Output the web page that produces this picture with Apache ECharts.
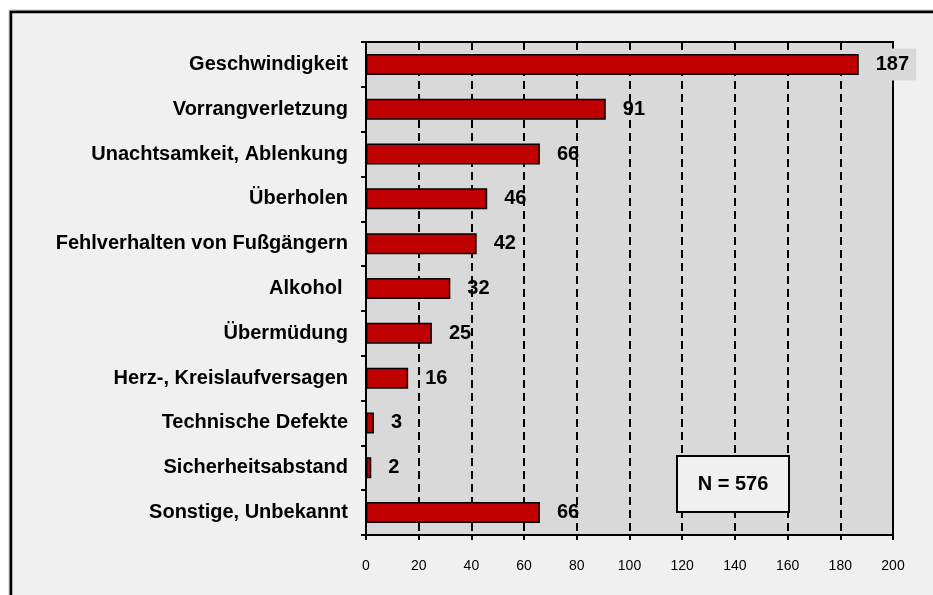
<!DOCTYPE html>
<html>
<head>
<meta charset="utf-8">
<script src="https://cdn.jsdelivr.net/npm/echarts@6/dist/echarts.min.js"></script>
<style>
  html, body { margin: 0; padding: 0; background: #fff; }
  #chart { width: 933px; height: 595px; }
</style>
</head>
<body>
<div id="chart"></div>
<script>
// Unfallursachen (Anzahl)
const categories = [
  "Geschwindigkeit",
  "Vorrangverletzung",
  "Unachtsamkeit, Ablenkung",
  "Überholen",
  "Fehlverhalten von Fußgängern",
  "Alkohol ",
  "Übermüdung",
  "Herz-, Kreislaufversagen",
  "Technische Defekte",
  "Sicherheitsabstand",
  "Sonstige, Unbekannt"
];
const values = [187, 91, 66, 46, 42, 32, 25, 16, 3, 2, 66];
const axisMax = 200;
const axisStep = 20;
const totalLabel = "N = 576";

const font = "'Liberation Sans', Arial, sans-serif";
const chart = echarts.init(document.getElementById("chart"));

// the longest bar's label sticks out of the plot, it keeps the plot grey behind it
const maxVal = Math.max(...values);
const barData = values.map(v => v === maxVal
  ? { value: v, label: { backgroundColor: "#d9d9d9" } }
  : v);

chart.setOption({
  animation: false,
  backgroundColor: "#ffffff",
  grid: {
    left: 366,
    right: 40,
    top: 42,
    bottom: 60,
    show: true,
    backgroundColor: "#d9d9d9",
    borderColor: "#000",
    borderWidth: 2
  },
  xAxis: {
    type: "value",
    min: 0,
    max: axisMax,
    interval: axisStep,
    axisLine: { show: true, lineStyle: { color: "#000", width: 2 } },
    axisTick: { show: true, length: 5, lineStyle: { color: "#000", width: 2 } },
    axisLabel: { color: "#000", fontFamily: font, fontSize: 14, margin: 24 },
    splitLine: { show: true, lineStyle: { color: "#000", type: [8, 5], width: 2 } }
  },
  yAxis: {
    type: "category",
    inverse: true,
    data: categories,
    axisLine: { show: true, lineStyle: { color: "#000", width: 2 } },
    axisTick: { show: true, length: 5, lineStyle: { color: "#000", width: 2 } },
    axisLabel: {
      color: "#000", fontFamily: font, fontSize: 20, fontWeight: "bold", margin: 18
    }
  },
  series: [{
    type: "bar",
    data: barData,
    barWidth: 21,
    itemStyle: { color: "#c00000", borderColor: "#000", borderWidth: 1.5 },
    label: {
      show: true,
      position: "right",
      distance: 10,
      color: "#000",
      fontFamily: font,
      fontSize: 20,
      fontWeight: "bold",
      padding: [6, 7, 6, 7]
    }
  }],
  graphic: [
    {
      type: "rect",
      z: -100,
      silent: true,
      shape: { x: 11, y: 12, width: 960, height: 620 },
      style: {
        fill: "#f0f0f0", stroke: "#000", lineWidth: 2.5,
        shadowColor: "rgba(0,0,0,0.35)", shadowOffsetX: -1, shadowOffsetY: -1, shadowBlur: 1
      }
    },
    {
      type: "rect",
      z: 100,
      shape: { x: 677, y: 456, width: 112, height: 56 },
      style: { fill: "#f0f0f0", stroke: "#000", lineWidth: 2 }
    },
    {
      type: "text",
      z: 101,
      x: 733,
      y: 484,
      style: {
        text: totalLabel, fill: "#000", font: "bold 20px " + font,
        align: "center", verticalAlign: "middle"
      }
    }
  ]
});
</script>
</body>
</html>
